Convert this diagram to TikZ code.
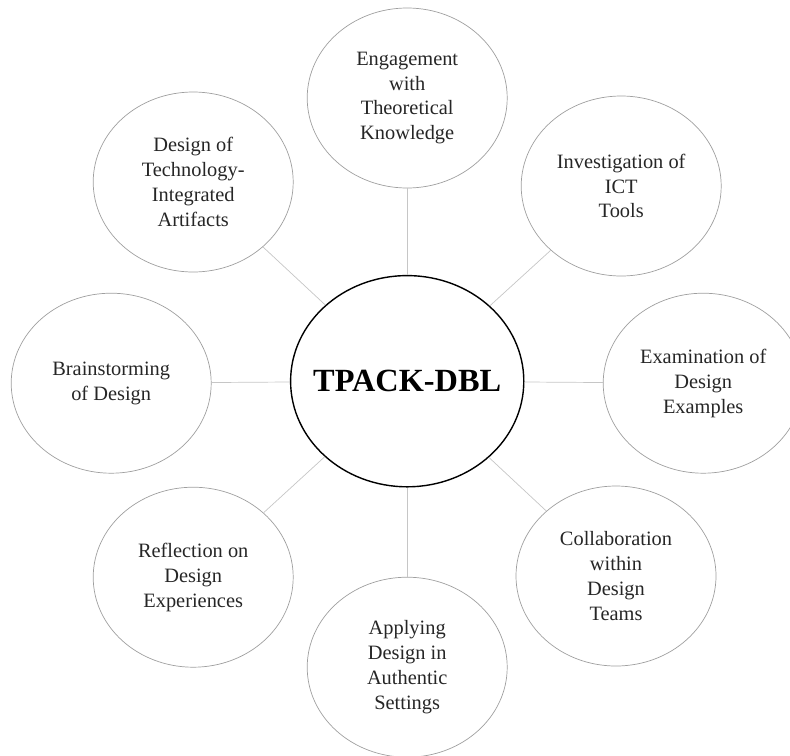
\documentclass[tikz,border=0pt]{standalone}
\usepackage{fontspec}
\setmainfont{Liberation Serif}
\usepackage{tikz}
\usetikzlibrary{shapes.geometric}

\begin{document}
\begin{tikzpicture}[
        stage/.style={ellipse, draw=gray!75, line width=0.5pt, inner sep=0pt,
            minimum width=5cm, minimum height=4.5cm, align=center,
            text=black!85, font=\fontsize{14.5}{17.7}\selectfont},
        hub/.style={ellipse, draw=black, line width=1pt, inner ysep=0pt, inner xsep=-14pt,
            minimum width=5.83cm, minimum height=5.28cm,
            font=\fontsize{23}{28}\selectfont\bfseries},
        spoke/.style={draw=gray!45, line width=0.5pt}
    ]
            \useasboundingbox (0, 0) rectangle (19.75, -18.875);

            \node[hub] (tpack) at (10.18, -9.53) {TPACK-DBL};
            \node[stage] (engage) at (10.18, -2.45) {Engagement\\with\\Theoretical\\Knowledge};
            \node[stage] (ict) at (15.53, -4.65) {Investigation of\\ICT\\Tools};
            \node[stage] (examples) at (17.58, -9.58) {Examination of\\Design\\Examples};
            \node[stage] (teams) at (15.4, -14.4) {Collaboration\\within\\Design\\Teams};
            \node[stage] (settings) at (10.18, -16.68) {Applying\\Design in\\Authentic\\Settings};
            \node[stage] (reflect) at (4.83, -14.43) {Reflection on\\Design\\Experiences};
            \node[stage] (brainstorm) at (2.78, -9.58) {Brainstorming\\of Design};
            \node[stage] (artifacts) at (4.83, -4.55) {Design of\\Technology-\\Integrated\\Artifacts};

            \draw [spoke] (tpack) -- (engage);
            \draw [spoke] (tpack) -- (ict);
            \draw [spoke] (tpack) -- (examples);
            \draw [spoke] (tpack) -- (teams);
            \draw [spoke] (tpack) -- (settings);
            \draw [spoke] (tpack) -- (reflect);
            \draw [spoke] (tpack) -- (brainstorm);
            \draw [spoke] (tpack) -- (artifacts);
        \end{tikzpicture}
\end{document}
